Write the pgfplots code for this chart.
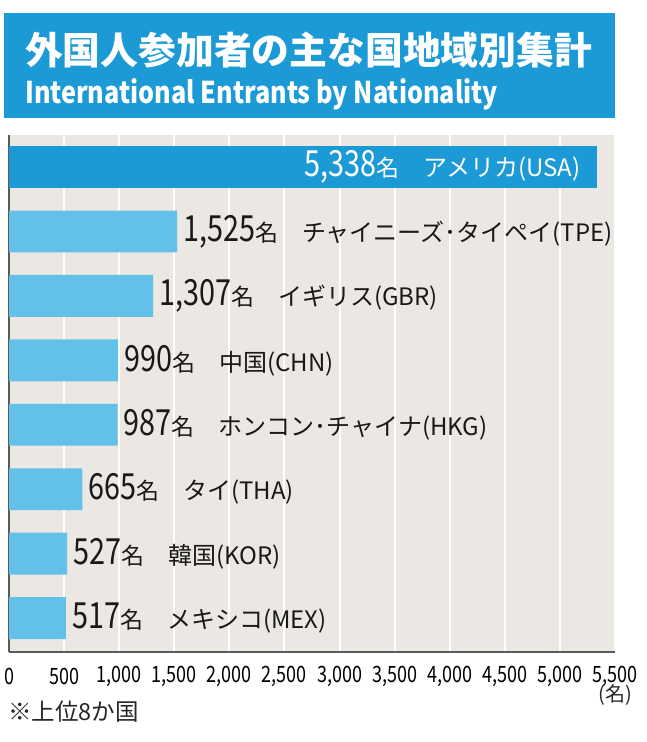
\documentclass[border=0pt]{standalone}
\usepackage{fontspec}
\usepackage{pgfplots}
\usepackage{pgfplotstable}
\pgfplotsset{compat=1.18}
\setmainfont{Noto Sans CJK JP}
\newfontfamily\cond{Noto Sans CJK JP}[FakeStretch=0.8]
\newfontfamily\condsub{Noto Sans CJK JP}[FakeStretch=0.84]

\definecolor{hdrblue}{HTML}{1C9AD6}
\definecolor{barblue}{HTML}{62C0E9}
\definecolor{plotbg}{HTML}{EBE8E3}
\definecolor{axgray}{HTML}{5A5A5A}

\pgfplotstableread[col sep=semicolon]{
pos;val;name
0;5338;アメリカ(USA)
}\usa
\pgfplotstableread[col sep=semicolon]{
pos;val;name
1;1525;チャイニーズ･タイペイ(TPE)
2;1307;イギリス(GBR)
3;990;中国(CHN)
4;987;ホンコン･チャイナ(HKG)
5;665;タイ(THA)
6;527;韓国(KOR)
7;517;メキシコ(MEX)
}\others

\newcommand{\barlabel}[2]{{\cond\fontsize{36}{36}\selectfont\pgfmathprintnumber[1000 sep={,}, fixed, precision=0]{#1}}{\fontsize{23}{23}\selectfont 名}\hspace{24pt}{\fontsize{24}{24}\selectfont #2}}

\begin{document}
\begin{tikzpicture}
\useasboundingbox[fill=white] (0pt,0pt) rectangle (647pt,-742pt);
% header
\fill[hdrblue] (4pt,-13pt) rectangle (615pt,-118pt);
\node[anchor=base west, text=white, inner sep=0pt, font=\bfseries\fontsize{37.8}{37.8}\selectfont] at (25pt,-64pt) {外国人参加者の主な国地域別集計};
\node[anchor=base west, text=white, inner sep=0pt, font=\condsub\bfseries\fontsize{30}{30}\selectfont] at (25pt,-103pt) {International Entrants by Nationality};

\begin{axis}[
  at={(9pt,-652pt)}, anchor=south west,
  scale only axis, width=606pt, height=517pt,
  xmin=0, xmax=5500, ymin=-0.497, ymax=7.527, y dir=reverse,
  xtick={0,500,...,5500}, ytick=\empty,
  xmajorgrids, major grid style={draw=white, line width=2pt},
  major tick length=0pt,
  axis x line*=bottom, axis y line*=left,
  axis line style={-, draw=axgray, line width=1.5pt},
  axis background/.style={fill=plotbg},
  /pgf/number format/1000 sep={,},
  /pgf/number format/assume math mode=true,
  xticklabel style={font=\cond\fontsize{22.5}{22.5}\selectfont, text=black, anchor=center, yshift=-24pt},
  bar width=0.65,
]
\addplot[xbar, bar shift=0pt, fill=hdrblue, draw=none,
  point meta=explicit symbolic,
  visualization depends on={x \as \xv},
  nodes near coords={\barlabel{\xv}{\pgfplotspointmeta}},
  every node near coord/.append style={anchor=west, text=white, inner sep=0pt, xshift=-293pt}]
  table[x=val, y=pos, meta=name] {\usa};
\addplot[xbar, bar shift=0pt, fill=barblue, draw=none,
  point meta=explicit symbolic,
  visualization depends on={x \as \xv},
  nodes near coords={\barlabel{\xv}{\pgfplotspointmeta}},
  every node near coord/.append style={anchor=west, text=black!90, inner sep=0pt, xshift=6pt}]
  table[x=val, y=pos, meta=name] {\others};
\end{axis}

\node[font=\fontsize{20}{20}\selectfont, text=black!85] at (615pt,-695pt) {(名)};
\node[anchor=west, inner sep=0pt, font=\fontsize{23.5}{23.5}\selectfont, text=black!85] at (8pt,-712pt) {※上位8か国};
\end{tikzpicture}
\end{document}
